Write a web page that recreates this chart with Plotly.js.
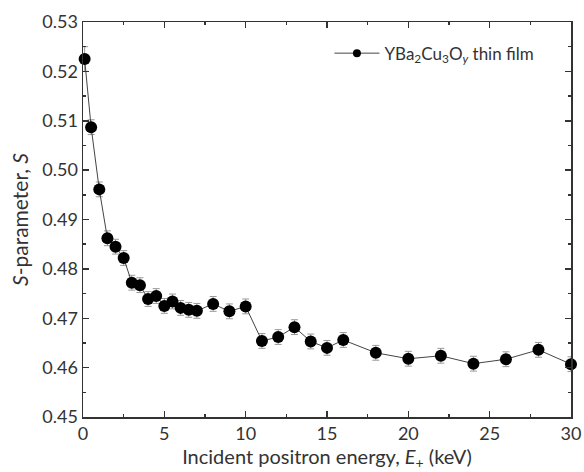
<!DOCTYPE html>
<html>
<head>
<meta charset="utf-8">
<script src="https://cdn.plot.ly/plotly-3.0.1.min.js"></script>
<style>html,body{margin:0;padding:0;background:#fff;}#chart{width:584px;height:472px;}</style>
</head>
<body>
<div id="chart"></div>
<script>
const energy = [0.1, 0.5, 1, 1.5, 2, 2.5, 3, 3.5, 4, 4.5, 5, 5.5, 6, 6.5, 7, 8, 9, 10, 11, 12, 13, 14, 15, 16, 18, 20, 22, 24, 26, 28, 30];
const sParam = [0.5225, 0.5087, 0.4961, 0.4862, 0.4845, 0.4822, 0.4772, 0.4767, 0.4739, 0.4745, 0.4725, 0.4734, 0.4721, 0.4717, 0.4715, 0.4729, 0.4714, 0.4724, 0.4654, 0.4662, 0.4682, 0.4653, 0.4640, 0.4656, 0.4630, 0.4618, 0.4624, 0.4608, 0.4617, 0.4636, 0.4607];
const sErr = [0.0025, 0.0015, 0.0015, 0.0015, 0.0015, 0.0015, 0.0015, 0.0015, 0.0015, 0.0015, 0.0015, 0.0015, 0.0015, 0.0015, 0.0015, 0.0015, 0.0015, 0.0015, 0.0015, 0.0015, 0.0015, 0.0015, 0.0015, 0.0015, 0.0015, 0.0015, 0.0015, 0.0015, 0.0015, 0.0015, 0.0015];
const seriesName = 'YBa<sub>2</sub>Cu<sub>3</sub>O<sub><i>y</i></sub> thin film';

const font = 'Lato, Open Sans, sans-serif';
const trace = {
  x: energy, y: sParam, type: 'scatter', mode: 'lines+markers', name: seriesName,
  showlegend: false,
  line: {color: '#444', width: 1},
  marker: {color: '#000', size: 12},
  error_y: {type: 'data', array: sErr, visible: true, color: '#999', thickness: 1, width: 3.5},
  cliponaxis: false
};
// legend entry (smaller marker, as in the reference key)
const legendTrace = {
  x: [null], y: [null], type: 'scatter', mode: 'lines+markers', name: seriesName,
  line: {color: '#444', width: 1}, marker: {color: '#000', size: 8}
};
const axisCommon = {
  showline: true, linecolor: '#333', linewidth: 1.5, mirror: 'allticks',
  ticks: 'inside', ticklen: 6, tickwidth: 1.5, tickcolor: '#333',
  showgrid: false, zeroline: false,
  tickfont: {family: font, size: 18, color: '#333'}
};
const layout = {
  width: 584, height: 472,
  margin: {l: 83, r: 13, t: 22, b: 55},
  paper_bgcolor: '#fff', plot_bgcolor: '#fff',
  showlegend: true,
  legend: {x: 0.505, y: 0.92, xanchor: 'left', yanchor: 'middle', bgcolor: 'rgba(0,0,0,0)',
           itemwidth: 45,
           font: {family: font, size: 17, color: '#333'}},
  xaxis: Object.assign({}, axisCommon, {
    range: [0, 30], dtick: 5, tick0: 0,
    minor: {ticks: 'inside', dtick: 2.5, ticklen: 3, tickwidth: 1.5, tickcolor: '#333'},
    title: {text: 'Incident positron energy, <i>E</i><sub>+</sub> (keV)', font: {family: font, size: 20, color: '#333'}, standoff: 2}
  }),
  yaxis: Object.assign({}, axisCommon, {
    range: [0.45, 0.53], dtick: 0.01, tick0: 0.45, tickformat: '.2f',
    minor: {ticks: 'inside', dtick: 0.005, ticklen: 3, tickwidth: 1.5, tickcolor: '#333'},
    title: {text: '<i>S</i>-parameter, <i>S</i>', font: {family: font, size: 21, color: '#333'}, standoff: 8}
  })
};
Plotly.newPlot('chart', [trace, legendTrace], layout, {displayModeBar: false, staticPlot: true});
</script>
</body>
</html>
